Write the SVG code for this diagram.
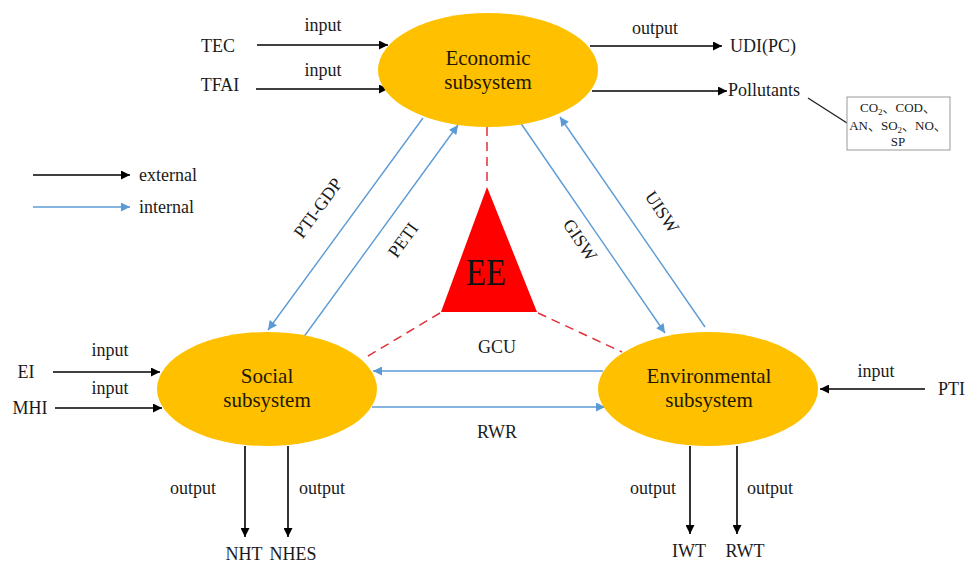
<svg xmlns="http://www.w3.org/2000/svg" width="966" height="564" viewBox="0 0 966 564">
<defs>
<style>
text{font-family:"Liberation Serif","Times New Roman",serif;font-size:18px;fill:#1a1a1a}
.c{text-anchor:middle}
.nt{font-size:21px;fill:#221800;text-anchor:middle}
.ee{font-size:38px;fill:#111;text-anchor:middle}
.ell{fill:#ffc000}
.ext{stroke:#000;stroke-width:1.6;fill:none;marker-end:url(#ab)}
.int{stroke:#5b9bd5;stroke-width:1.4;fill:none;marker-end:url(#al)}
.dash{stroke:#e0303a;stroke-width:1.5;stroke-dasharray:9 6;fill:none}
.box{font-size:13px;font-family:"Liberation Serif","Noto Sans CJK SC",serif;text-anchor:middle}
.sub{font-size:9px}
</style>
<marker id="ab" viewBox="0 0 10 10" refX="10" refY="5" markerWidth="11" markerHeight="9" markerUnits="userSpaceOnUse" orient="auto"><path d="M0,0 L10,5 L0,10 z" fill="#000"/></marker>
<marker id="al" viewBox="0 0 10 10" refX="10" refY="5" markerWidth="11" markerHeight="9" markerUnits="userSpaceOnUse" orient="auto"><path d="M0,0 L10,5 L0,10 z" fill="#5b9bd5"/></marker>
</defs>
<rect width="966" height="564" fill="#fff"/>

<g id="connectors">
<line class="ext" x1="257" y1="45" x2="388" y2="45"/>
<line class="ext" x1="256" y1="89" x2="388" y2="89"/>
<line class="ext" x1="590" y1="46" x2="722" y2="46"/>
<line class="ext" x1="592" y1="91" x2="727" y2="91"/>
<line x1="808" y1="98" x2="847" y2="123" stroke="#222" stroke-width="1.4"/>
<line class="ext" x1="53" y1="372" x2="160" y2="372"/>
<line class="ext" x1="55" y1="408" x2="162" y2="408"/>
<line class="ext" x1="245" y1="446" x2="245" y2="537"/>
<line class="ext" x1="288" y1="446" x2="288" y2="537"/>
<line class="ext" x1="925" y1="389" x2="820" y2="389"/>
<line class="ext" x1="690" y1="446" x2="690" y2="534"/>
<line class="ext" x1="737" y1="446" x2="737" y2="534"/>
<line class="int" x1="423" y1="118" x2="268" y2="330"/>
<line class="int" x1="303" y1="338" x2="458" y2="125"/>
<line class="int" x1="520" y1="122" x2="665" y2="333"/>
<line class="int" x1="705" y1="327" x2="560" y2="117"/>
<line class="int" x1="603" y1="371" x2="373" y2="371"/>
<line class="int" x1="372" y1="407" x2="605" y2="407"/>
<line class="dash" x1="487" y1="127" x2="487" y2="187"/>
<line class="dash" x1="440" y1="313" x2="363" y2="359"/>
<line class="dash" x1="538" y1="313" x2="622" y2="352"/>
<line class="ext" x1="33" y1="175" x2="130" y2="175"/>
<line class="int" x1="33" y1="207" x2="130" y2="207"/>
</g>

<g id="labels">
<text x="323" y="31" class="c">input</text>
<text x="323" y="76" class="c">input</text>
<text x="218" y="52" class="c">TEC</text>
<text x="220" y="91" class="c">TFAI</text>
<text x="655" y="34" class="c">output</text>
<text x="730" y="52">UDI(PC)</text>
<text x="728" y="96">Pollutants</text>
<text x="139" y="181">external</text>
<text x="139" y="213">internal</text>
<text x="110" y="356" class="c">input</text>
<text x="110" y="394" class="c">input</text>
<text x="26" y="378" class="c">EI</text>
<text x="30" y="414" class="c">MHI</text>
<text x="193" y="494" class="c">output</text>
<text x="322" y="494" class="c">output</text>
<text x="244" y="560" class="c">NHT</text>
<text x="293" y="560" class="c">NHES</text>
<text x="653" y="494" class="c">output</text>
<text x="770" y="494" class="c">output</text>
<text x="689" y="557" class="c">IWT</text>
<text x="745" y="557" class="c">RWT</text>
<text x="876" y="377" class="c">input</text>
<text x="938" y="395">PTI</text>
<text x="497" y="353" class="c">GCU</text>
<text x="497" y="438" class="c">RWR</text>
<text class="c" transform="translate(318,208) rotate(-54)" y="6">PTI-GDP</text>
<text class="c" transform="translate(403,240) rotate(-54)" y="6">PETI</text>
<text class="c" transform="translate(580,240) rotate(56)" y="6">GISW</text>
<text class="c" transform="translate(662,212) rotate(56)" y="6">UISW</text>
</g>

<g id="pollutant-box">
<rect x="847" y="97" width="103" height="53" fill="#fff" stroke="#999" stroke-width="1"/>
<text class="box" x="898" y="112">CO<tspan class="sub" dy="3">2</tspan><tspan dy="-3">、COD、</tspan></text>
<text class="box" x="898" y="130">AN、SO<tspan class="sub" dy="3">2</tspan><tspan dy="-3">、NO、</tspan></text>
<text class="box" x="898" y="146">SP</text>
</g>

<g id="economic">
<ellipse class="ell" cx="488" cy="70" rx="110" ry="57"/>
<text class="nt" x="488" y="65">Economic</text>
<text class="nt" x="488" y="89">subsystem</text>
</g>

<g id="social">
<ellipse class="ell" cx="267" cy="389" rx="110" ry="57"/>
<text class="nt" x="267" y="383">Social</text>
<text class="nt" x="267" y="407">subsystem</text>
</g>

<g id="environmental">
<ellipse class="ell" cx="708" cy="389" rx="110" ry="57"/>
<text class="nt" x="709" y="383">Environmental</text>
<text class="nt" x="709" y="407">subsystem</text>
</g>

<g id="ee">
<polygon points="487,187 441,312 537,312" fill="#ff0000"/>
<text x="486" y="285" class="ee" textLength="40" lengthAdjust="spacingAndGlyphs">EE</text>
</g>
</svg>
